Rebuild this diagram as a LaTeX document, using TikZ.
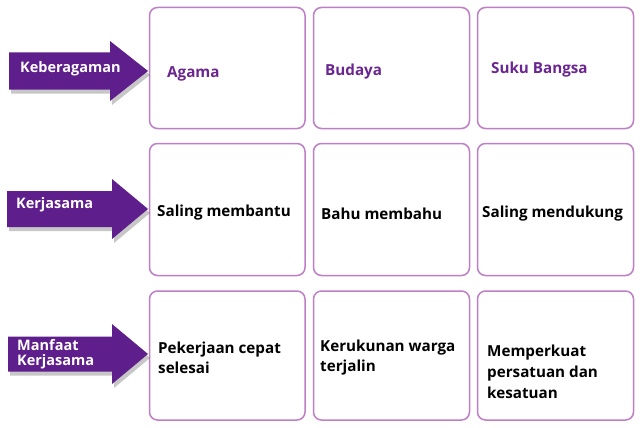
\documentclass[tikz,border=0pt]{standalone}
\usepackage{fontspec}
\setmainfont{Open Sans}
\definecolor{boxline}{HTML}{BF7FC6}
\definecolor{arrowfill}{HTML}{5E1E8C}
\definecolor{toptext}{HTML}{6A2590}
\begin{document}
\begin{tikzpicture}[x=1pt,y=-1pt,
  cell/.style={draw=boxline,line width=1.5pt,rounded corners=8pt,fill=white},
  celltext/.style={anchor=west,font=\bfseries\fontsize{15.2}{20}\selectfont,align=left,inner sep=0pt},
  arrowtext/.style={anchor=west,font=\bfseries\fontsize{14.5}{15}\selectfont,text=white,align=left,inner sep=0pt},
  bigarrow/.style={fill=arrowfill},
  arrowshadow/.style={fill=black,opacity=0.22}]
\useasboundingbox (0,0) rectangle (640,428);
\fill[white] (0,0) rectangle (640,428);
% boxes
\foreach \c/\xa/\xb in {1/149.5/305,2/313.5/469.5,3/477.5/633.5}{
  \foreach \r/\ya/\yb in {1/7.5/128.5,2/143.5/275.5,3/291/420}{
    \draw[cell] (\xa,\ya) rectangle (\xb,\yb);
  }
}
% arrows
\newcommand{\myarrow}[5]{% left, baseend, tip, center, bodyhalf
  \fill[arrowshadow] (#1+2,#4-#5+4) -- (#2+2,#4-#5+4) -- (#2+2,#4-30+4) -- (#3+2,#4+4) -- (#2+2,#4+30+4) -- (#2+2,#4+#5+4) -- (#1+2,#4+#5+4) -- cycle;
  \fill[bigarrow] (#1,#4-#5) -- (#2,#4-#5) -- (#2,#4-30) -- (#3,#4) -- (#2,#4+30) -- (#2,#4+#5) -- (#1,#4+#5) -- cycle;
}
\myarrow{9}{110}{148}{71}{18.5}
\myarrow{7}{112}{148}{209}{18}
\myarrow{8}{112}{148}{354}{17.5}
\node[arrowtext] (a1) at (20,69) {Keberagaman};
\node[arrowtext] (a2) at (16,205) {Kerjasama};
\node[arrowtext,font=\bfseries\fontsize{14.5}{14.5}\selectfont] (a3) at (17,354) {Manfaat\\Kerjasama};
% texts
\node[celltext,text=toptext] (t11) at (167,74) {Agama};
\node[celltext,text=toptext] (t12) at (325,72) {Budaya};
\node[celltext,text=toptext] (t13) at (491,70) {Suku Bangsa};
\node[celltext] (t21) at (157,213) {Saling membantu};
\node[celltext] (t22) at (321,214) {Bahu membahu};
\node[celltext] (t23) at (482,214) {Saling mendukung};
\node[celltext] (t31) at (158,358) {Pekerjaan cepat\\selesai};
\node[celltext] (t32) at (320,358) {Kerukunan warga\\terjalin};
\node[celltext,font=\bfseries\fontsize{15.2}{21}\selectfont] (t33) at (487,372) {Memperkuat\\persatuan dan\\kesatuan};
\end{tikzpicture}
\end{document}
